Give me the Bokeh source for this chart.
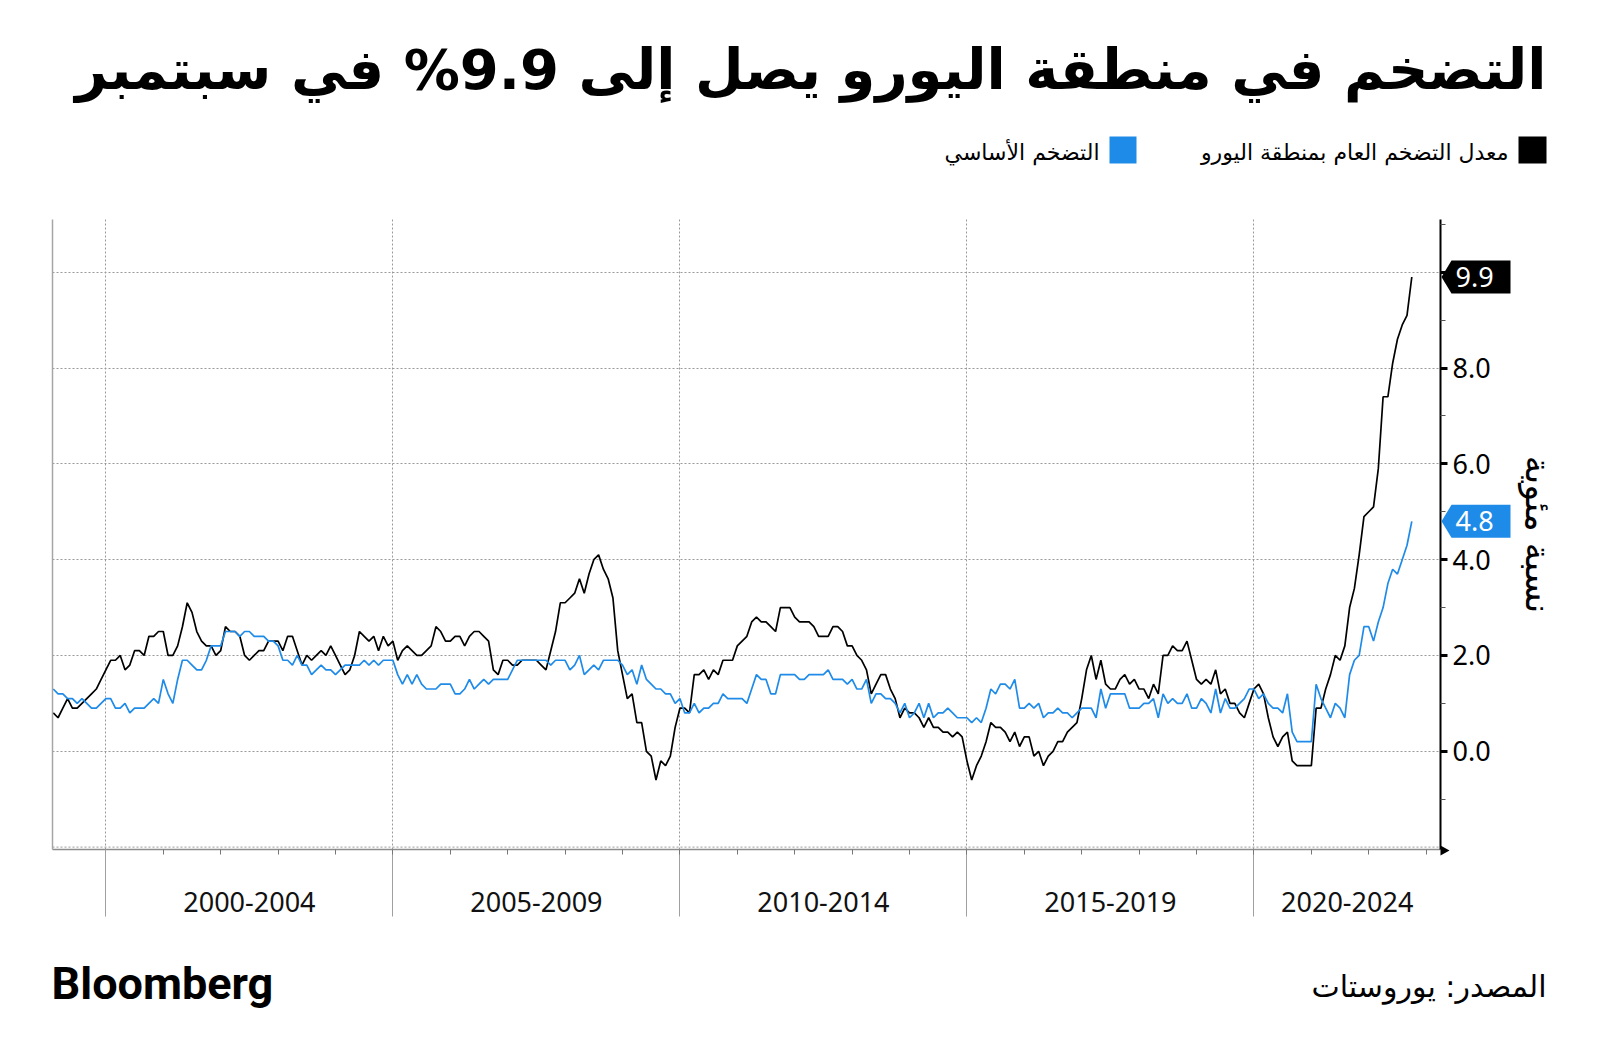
from bokeh.plotting import figure
from bokeh.models import (FixedTicker, LinearAxis, Label, PolyAnnotation,
                          BoxAnnotation, Range1d, PrintfTickFormatter)
from bokeh.embed import file_html
from bokeh.resources import INLINE

# ---------------- data (monthly, Jan 1999 - Sep 2022) ----------------
start_year = 1999
headline = [
    0.8, 0.7, 0.9, 1.1, 0.9, 0.9, 1.0, 1.1, 1.2, 1.3, 1.5, 1.7,   # 1999
    1.9, 1.9, 2.0, 1.7, 1.8, 2.1, 2.1, 2.0, 2.4, 2.4, 2.5, 2.5,   # 2000
    2.0, 2.0, 2.2, 2.6, 3.1, 2.9, 2.5, 2.3, 2.2, 2.2, 2.0, 2.1,   # 2001
    2.6, 2.5, 2.5, 2.4, 2.0, 1.9, 2.0, 2.1, 2.1, 2.3, 2.3, 2.3,   # 2002
    2.1, 2.4, 2.4, 2.1, 1.8, 2.0, 1.9, 2.0, 2.1, 2.0, 2.2, 2.0,   # 2003
    1.8, 1.6, 1.7, 2.0, 2.5, 2.4, 2.3, 2.4, 2.1, 2.4, 2.2, 2.3,   # 2004
    1.9, 2.1, 2.2, 2.1, 2.0, 2.0, 2.1, 2.2, 2.6, 2.5, 2.3, 2.3,   # 2005
    2.4, 2.4, 2.2, 2.4, 2.5, 2.5, 2.4, 2.3, 1.7, 1.6, 1.9, 1.9,   # 2006
    1.8, 1.8, 1.9, 1.9, 1.9, 1.9, 1.8, 1.7, 2.1, 2.5, 3.1, 3.1,   # 2007
    3.2, 3.3, 3.6, 3.3, 3.7, 4.0, 4.1, 3.8, 3.6, 3.2, 2.1, 1.6,   # 2008
    1.1, 1.2, 0.6, 0.6, 0.0, -0.1, -0.6, -0.2, -0.3, -0.1, 0.5, 0.9,  # 2009
    0.9, 0.8, 1.6, 1.6, 1.7, 1.5, 1.7, 1.6, 1.9, 1.9, 1.9, 2.2,   # 2010
    2.3, 2.4, 2.7, 2.8, 2.7, 2.7, 2.6, 2.5, 3.0, 3.0, 3.0, 2.8,   # 2011
    2.7, 2.7, 2.7, 2.6, 2.4, 2.4, 2.4, 2.6, 2.6, 2.5, 2.2, 2.2,   # 2012
    2.0, 1.9, 1.7, 1.2, 1.4, 1.6, 1.6, 1.3, 1.1, 0.7, 0.9, 0.8,   # 2013
    0.8, 0.7, 0.5, 0.7, 0.5, 0.5, 0.4, 0.4, 0.3, 0.4, 0.3, -0.2,  # 2014
    -0.6, -0.3, -0.1, 0.2, 0.6, 0.5, 0.5, 0.4, 0.2, 0.4, 0.1, 0.3,  # 2015
    0.3, -0.1, 0.0, -0.3, -0.1, 0.0, 0.2, 0.2, 0.4, 0.5, 0.6, 1.1,  # 2016
    1.7, 2.0, 1.5, 1.9, 1.4, 1.3, 1.3, 1.5, 1.6, 1.4, 1.5, 1.3,   # 2017
    1.3, 1.1, 1.4, 1.2, 2.0, 2.0, 2.2, 2.1, 2.1, 2.3, 1.9, 1.5,   # 2018
    1.4, 1.5, 1.4, 1.7, 1.2, 1.3, 1.0, 1.0, 0.8, 0.7, 1.0, 1.3,   # 2019
    1.4, 1.2, 0.7, 0.3, 0.1, 0.3, 0.4, -0.2, -0.3, -0.3, -0.3, -0.3,  # 2020
    0.9, 0.9, 1.3, 1.6, 2.0, 1.9, 2.2, 3.0, 3.4, 4.1, 4.9, 5.0,   # 2021
    5.1, 5.9, 7.4, 7.4, 8.1, 8.6, 8.9, 9.1, 9.9,                  # 2022
]
core = [
    1.3, 1.2, 1.2, 1.1, 1.1, 1.0, 1.1, 1.0, 0.9, 0.9, 1.0, 1.1,   # 1999
    1.1, 0.9, 0.9, 1.0, 0.8, 0.9, 0.9, 0.9, 1.0, 1.1, 1.0, 1.5,   # 2000
    1.2, 1.0, 1.5, 1.9, 1.9, 1.8, 1.7, 1.7, 1.9, 2.2, 2.2, 2.2,   # 2001
    2.5, 2.5, 2.5, 2.4, 2.5, 2.5, 2.4, 2.4, 2.4, 2.3, 2.3, 2.2,   # 2002
    1.9, 1.9, 1.8, 2.0, 1.8, 1.8, 1.6, 1.7, 1.8, 1.7, 1.7, 1.6,   # 2003
    1.7, 1.8, 1.8, 1.8, 1.8, 1.9, 1.8, 1.9, 1.8, 1.9, 1.9, 1.9,   # 2004
    1.6, 1.4, 1.6, 1.4, 1.6, 1.4, 1.3, 1.3, 1.3, 1.4, 1.4, 1.4,   # 2005
    1.2, 1.2, 1.3, 1.5, 1.3, 1.4, 1.5, 1.4, 1.5, 1.5, 1.5, 1.5,   # 2006
    1.7, 1.9, 1.9, 1.9, 1.9, 1.9, 1.9, 1.9, 1.8, 1.9, 1.9, 1.9,   # 2007
    1.7, 1.8, 2.0, 1.6, 1.7, 1.8, 1.7, 1.9, 1.9, 1.9, 1.9, 1.8,   # 2008
    1.6, 1.7, 1.4, 1.8, 1.5, 1.4, 1.3, 1.3, 1.2, 1.2, 1.0, 1.1,   # 2009
    0.8, 0.8, 1.0, 0.8, 0.9, 0.9, 1.0, 1.0, 1.2, 1.1, 1.1, 1.1,   # 2010
    1.1, 1.0, 1.3, 1.6, 1.5, 1.5, 1.2, 1.2, 1.6, 1.6, 1.6, 1.6,   # 2011
    1.5, 1.5, 1.6, 1.6, 1.6, 1.6, 1.7, 1.5, 1.5, 1.5, 1.4, 1.5,   # 2012
    1.3, 1.3, 1.5, 1.0, 1.2, 1.2, 1.1, 1.1, 1.0, 0.8, 1.0, 0.7,   # 2013
    0.8, 1.0, 0.7, 1.0, 0.7, 0.8, 0.8, 0.9, 0.8, 0.7, 0.7, 0.7,   # 2014
    0.6, 0.7, 0.6, 0.9, 1.3, 1.2, 1.4, 1.4, 1.3, 1.5, 0.9, 0.9,   # 2015
    1.0, 0.9, 1.0, 0.7, 0.8, 0.8, 0.9, 0.8, 0.8, 0.7, 0.8, 0.9,   # 2016
    0.9, 0.9, 0.7, 1.3, 0.9, 1.2, 1.2, 1.2, 1.2, 0.9, 0.9, 0.9,   # 2017
    1.0, 1.0, 1.1, 0.7, 1.2, 1.0, 1.1, 1.0, 1.0, 1.2, 0.9, 0.9,   # 2018
    1.1, 1.0, 0.8, 1.3, 0.8, 1.1, 0.9, 0.9, 1.0, 1.1, 1.3, 1.3,   # 2019
    1.1, 1.2, 1.0, 0.9, 0.9, 0.8, 1.2, 0.4, 0.2, 0.2, 0.2, 0.2,   # 2020
    1.4, 1.1, 0.9, 0.7, 1.0, 0.9, 0.7, 1.6, 1.9, 2.0, 2.6, 2.6,   # 2021
    2.3, 2.7, 3.0, 3.5, 3.8, 3.7, 4.0, 4.3, 4.8,                  # 2022
]
months = [start_year + (i + 1) / 12 for i in range(len(headline))]

period_labels = ["2000-2004", "2005-2009", "2010-2014", "2015-2019", "2020-2024"]
period_starts = [2000, 2005, 2010, 2015, 2020]
year_ticks = list(range(2001, 2024))
y_major = [0, 2, 4, 6, 8, 10]
y_minor = [-1, 1, 3, 5, 7, 9, 11]

title_text = "التضخم في منطقة اليورو يصل إلى 9.9% في سبتمبر"
legend_headline = "معدل التضخم العام بمنطقة اليورو"
legend_core = "التضخم الأساسي"
y_title = "نسبة مئوية"
source_text = "المصدر: يوروستات"

BLACK = "#000000"
BLUE = "#1f8be8"
GRID = "#9a9a9a"
ARABIC = "DejaVu Sans"
LATIN = "Noto Sans"

# ---------------- geometry (pixels) ----------------
W, H = 1600, 1063
FL, FR, FT, FB = 52, 1440, 219, 849          # chart area inside the page
X0, X1 = 1999.07, 2023.25                    # x data at FL / FR
Y0, Y1 = -2.05, 11.1                         # y data at FB / FT
KX = (FR - FL) / (X1 - X0)
KY = (FB - FT) / (Y1 - Y0)


def dx(px):
    return X0 + (px - FL) / KX


def dy(py):
    return Y0 + (FB - py) / KY


# the frame covers the whole page; axes are pinned with fixed_location
p = figure(width=W, height=H,
           x_range=Range1d(dx(0), dx(W)), y_range=Range1d(dy(H), dy(0)),
           y_axis_location="right", output_backend="svg", toolbar_location=None,
           min_border_left=0, min_border_right=0, min_border_top=0,
           min_border_bottom=0)
p.outline_line_color = None
p.background_fill_color = "white"
p.border_fill_color = "white"

# x axis: long separators at period starts, short ticks every year
xa = p.xaxis[0]
xa.fixed_location = Y0
xa.bounds = (X0, X1)
xa.ticker = FixedTicker(ticks=period_starts, minor_ticks=year_ticks)
xa.major_label_overrides = {t: "" for t in period_starts}
xa.major_tick_in = 0
xa.major_tick_out = 67
xa.major_tick_line_color = "#a0a0a0"
xa.minor_tick_in = 0
xa.minor_tick_out = 5
xa.minor_tick_line_color = "#777777"
xa.axis_line_color = "#8c8c8c"
xa.axis_line_width = 1.5

# right y axis
ya = p.yaxis[0]
ya.fixed_location = X1
ya.bounds = (Y0, Y1)
ya.ticker = FixedTicker(ticks=y_major, minor_ticks=y_minor)
ya.formatter = PrintfTickFormatter(format="%.1f")
ya.major_label_overrides = {10: ""}
ya.axis_line_color = BLACK
ya.axis_line_width = 2
ya.major_tick_in = 0
ya.major_tick_out = 7
ya.major_tick_line_width = 3
ya.major_tick_line_color = BLACK
ya.minor_tick_in = 0
ya.minor_tick_out = 5
ya.minor_tick_line_color = "#555555"
ya.major_label_text_font = LATIN
ya.major_label_text_font_size = "27px"
ya.major_label_text_color = BLACK
ya.major_label_standoff = 5
ya.axis_label = y_title
ya.axis_label_text_font = ARABIC
ya.axis_label_text_font_size = "35px"
ya.axis_label_text_font_style = "normal"
ya.axis_label_text_color = BLACK
ya.axis_label_standoff = 24

# left spine
left = LinearAxis(fixed_location=X0, bounds=(Y0, Y1), ticker=FixedTicker(ticks=[]),
                  axis_line_color="#a6a6a6", axis_line_width=1.5,
                  major_tick_line_color=None, minor_tick_line_color=None,
                  major_label_text_font_size="0px")
p.add_layout(left, "left")

# dotted grid limited to the chart area
grid_ok = True
for g, cb in ((p.xgrid[0], (Y0, Y1)), (p.ygrid[0], (X0, X1))):
    g.grid_line_color = GRID
    g.grid_line_dash = "2 2"
    g.grid_line_width = 1
    try:
        g.cross_bounds = cb
    except Exception:
        grid_ok = False
if not grid_ok:
    p.xgrid[0].grid_line_color = None
    p.ygrid[0].grid_line_color = None
    p.segment(x0=period_starts, y0=[Y0] * 5, x1=period_starts, y1=[Y1] * 5,
              line_color=GRID, line_dash="2 2", line_width=1)
    p.segment(x0=[X0] * len(y_major), y0=y_major, x1=[X1] * len(y_major), y1=y_major,
              line_color=GRID, line_dash="2 2", line_width=1)
p.segment(x0=[X0], y0=[-2], x1=[X1], y1=[-2], line_color=GRID, line_dash="2 2",
          line_width=1)

# series
p.line(months, headline, line_color=BLACK, line_width=1.7)
p.line(months, core, line_color=BLUE, line_width=1.7)

# period labels under the axis
for lab, s in zip(period_labels, period_starts):
    end = min(s + 5, X1)
    p.add_layout(Label(x=(s + end) / 2, y=dy(901), text=lab, text_align="center",
                       text_baseline="middle", text_font=LATIN,
                       text_font_size="27px", text_color="#111111"))

# value tags on the right axis
for val, col in ((headline[-1], BLACK), (core[-1], BLUE)):
    half = 16.5 / KY
    p.add_layout(PolyAnnotation(
        xs=[dx(1441), dx(1451), dx(1510), dx(1510), dx(1451)],
        ys=[val, val + half, val + half, val - half, val - half],
        fill_color=col, fill_alpha=1.0, line_color=None))
    p.add_layout(Label(x=dx(1455), y=val, text=f"{val:.1f}", text_align="left",
                       text_baseline="middle", text_font=LATIN,
                       text_font_size="27px", text_color="white"))

# arrow at the end of the x axis
p.add_layout(PolyAnnotation(xs=[dx(1440), dx(1449), dx(1440)],
                            ys=[dy(845), dy(850), dy(855)],
                            fill_color=BLACK, fill_alpha=1.0, line_color=None))

# title
p.add_layout(Label(x=dx(1546), y=dy(69), text=title_text, text_align="right",
                   text_baseline="alphabetic", text_font=ARABIC,
                   text_font_size="56px", text_font_style="bold", text_color=BLACK))

# legend
p.add_layout(BoxAnnotation(left=dx(1518), right=dx(1546), top=dy(136), bottom=dy(163),
                           fill_color=BLACK, fill_alpha=1.0, line_color=None))
p.add_layout(Label(x=dx(1508), y=dy(152), text=legend_headline, text_align="right",
                   text_baseline="alphabetic", text_font=ARABIC,
                   text_font_size="22px", text_color=BLACK))
p.add_layout(BoxAnnotation(left=dx(1109), right=dx(1136), top=dy(136), bottom=dy(163),
                           fill_color=BLUE, fill_alpha=1.0, line_color=None))
p.add_layout(Label(x=dx(1099), y=dy(152), text=legend_core, text_align="right",
                   text_baseline="alphabetic", text_font=ARABIC,
                   text_font_size="22px", text_color=BLACK))

# footer
p.add_layout(Label(x=dx(51), y=dy(983), text="Bloomberg", text_align="left",
                   text_baseline="alphabetic", text_font="Roboto",
                   text_font_size="45px", text_font_style="bold", text_color=BLACK))
p.add_layout(Label(x=dx(1546), y=dy(986), text=source_text, text_align="right",
                   text_baseline="alphabetic", text_font=ARABIC,
                   text_font_size="30px", text_color=BLACK))

open("out.html", "w").write(file_html(p, INLINE))
